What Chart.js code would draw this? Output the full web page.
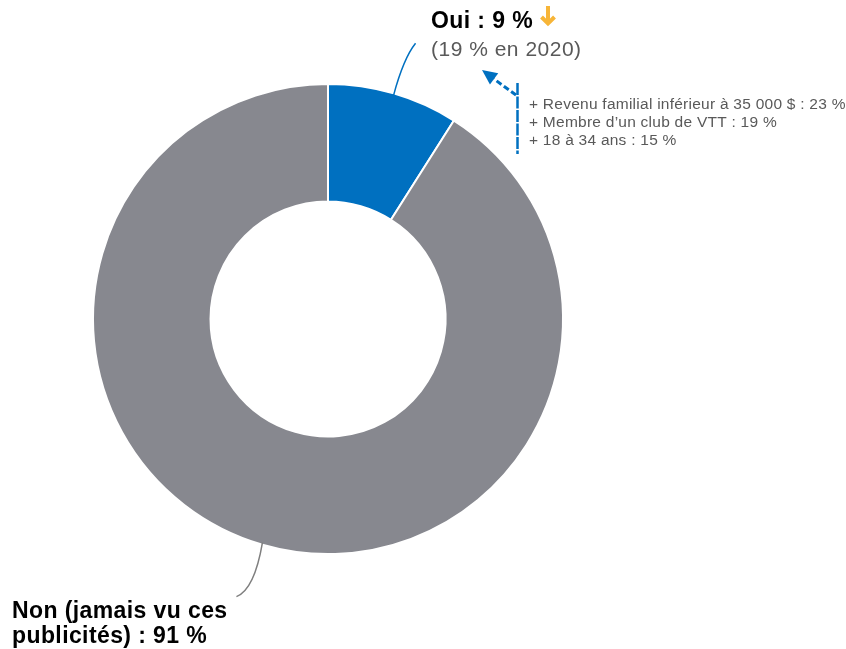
<!DOCTYPE html>
<html>
<head>
<meta charset="utf-8">
<script src="https://cdn.jsdelivr.net/npm/chart.js@4/dist/chart.umd.min.js"></script>
<style>
  html, body { margin: 0; padding: 0; background: #fff; }
  #wrap { width: 846px; height: 649px; }
</style>
</head>
<body>
<div id="wrap"><canvas id="chart"></canvas></div>
<script>
const labels = ["Oui", "Non (jamais vu ces publicités)"];
const values = [9, 91];
const colors = ["#0070c0", "#87888f"];
const previous = "(19 % en 2020)";
const profile = [
  "+ Revenu familial inférieur à 35 000 $ : 23 %",
  "+ Membre d\u2019un club de VTT : 19 %",
  "+ 18 à 34 ans : 15 %"
];

const FONT = '"Liberation Sans", Arial, sans-serif';

// point on the outer edge in the middle of a slice
function midEdge(arc) {
  const a = (arc.startAngle + arc.endAngle) / 2;
  return {
    x: arc.x + Math.cos(a) * arc.outerRadius,
    y: arc.y + Math.sin(a) * arc.outerRadius
  };
}

function arrowHead(ctx, fx, fy, tx, ty, len, half) {
  const d = Math.hypot(tx - fx, ty - fy);
  const ux = (tx - fx) / d, uy = (ty - fy) / d;
  const bx = tx - ux * len, by = ty - uy * len;
  ctx.beginPath();
  ctx.moveTo(tx, ty);
  ctx.lineTo(bx - uy * half, by + ux * half);
  ctx.lineTo(bx + uy * half, by - ux * half);
  ctx.closePath();
  ctx.fill();
}

const annotations = {
  id: "annotations",
  afterDraw(chart) {
    const ctx = chart.ctx;
    const arcs = chart.getDatasetMeta(0).data;
    ctx.save();
    ctx.textBaseline = "alphabetic";

    // Oui
    const p = midEdge(arcs[0]);
    ctx.strokeStyle = colors[0];
    ctx.lineWidth = 1.5;
    ctx.beginPath();
    ctx.moveTo(p.x, p.y + 2);
    ctx.quadraticCurveTo(p.x + 10, p.y - 35, p.x + 22, p.y - 50);
    ctx.stroke();

    ctx.fillStyle = "#000";
    ctx.font = "bold 23px " + FONT;
    ctx.letterSpacing = "0.4px";
    const t1 = "Oui : " + values[0] + " %";
    ctx.fillText(t1, 431, 28);
    const w1 = ctx.measureText(t1).width;
    // orange down arrow
    const ax = 431 + w1 + 15;
    ctx.strokeStyle = "#f7b538";
    ctx.lineWidth = 4;
    ctx.beginPath();
    ctx.moveTo(ax, 6);
    ctx.lineTo(ax, 23);
    ctx.moveTo(ax - 6.5, 17);
    ctx.lineTo(ax, 23.5);
    ctx.lineTo(ax + 6.5, 17);
    ctx.stroke();

    ctx.fillStyle = "#595959";
    ctx.font = "21px " + FONT;
    ctx.letterSpacing = "0.5px";
    ctx.fillText(previous, 431, 56);

    // dashed bracket + arrow
    ctx.strokeStyle = colors[0];
    ctx.lineWidth = 2.5;
    ctx.setLineDash([12, 1.5]);
    ctx.beginPath();
    ctx.moveTo(517.5, 83);
    ctx.lineTo(517.5, 154);
    ctx.stroke();
    ctx.lineWidth = 3;
    ctx.setLineDash([6, 3]);
    ctx.beginPath();
    ctx.moveTo(516, 95);
    ctx.lineTo(494, 79);
    ctx.stroke();
    ctx.setLineDash([]);
    ctx.fillStyle = colors[0];
    arrowHead(ctx, 516, 95, 482, 70, 15, 7);

    ctx.fillStyle = "#595959";
    ctx.font = "15.5px " + FONT;
    ctx.letterSpacing = "0.25px";
    profile.forEach((s, i) => ctx.fillText(s, 529, 109 + i * 18));

    // Non
    const q = midEdge(arcs[1]);
    ctx.strokeStyle = "#7f7f7f";
    ctx.lineWidth = 1.5;
    ctx.beginPath();
    ctx.moveTo(q.x, q.y - 2);
    ctx.quadraticCurveTo(q.x - 8, q.y + 45, q.x - 26, q.y + 52);
    ctx.stroke();

    ctx.fillStyle = "#000";
    ctx.font = "bold 23px " + FONT;
    ctx.letterSpacing = "0.4px";
    ctx.fillText("Non (jamais vu ces", 12, 618);
    ctx.fillText("publicités) : " + values[1] + " %", 12, 643);

    ctx.restore();
  }
};

new Chart(document.getElementById("chart"), {
  type: "doughnut",
  data: {
    labels: labels,
    datasets: [{
      data: values,
      backgroundColor: colors,
      borderColor: "#fff",
      borderWidth: 2
    }]
  },
  options: {
    responsive: true,
    maintainAspectRatio: false,
    animation: false,
    cutout: "50%",
    layout: { padding: { left: 92, right: 282, top: 83, bottom: 94 } },
    plugins: {
      legend: { display: false },
      tooltip: { enabled: false }
    }
  },
  plugins: [annotations]
});
</script>
</body>
</html>
